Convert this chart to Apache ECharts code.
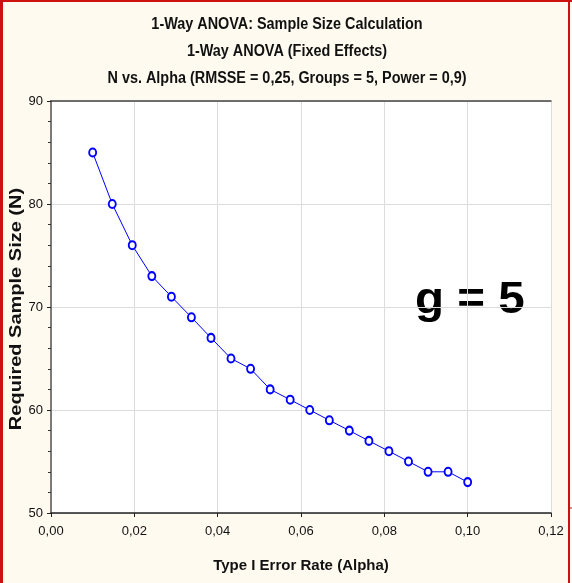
<!DOCTYPE html>
<html>
<head>
<meta charset="utf-8">
<script src="https://cdn.jsdelivr.net/npm/echarts@6/dist/echarts.min.js"></script>
<style>
html,body{margin:0;padding:0;background:#fefaef;}
#c{width:572px;height:583px;}
</style>
</head>
<body>
<div id="c"></div>
<script>
const alphaValues = [0.0100, 0.0147, 0.0195, 0.0242, 0.0289, 0.0337, 0.0384, 0.0432, 0.0479, 0.0526, 0.0574, 0.0621, 0.0668, 0.0716, 0.0763, 0.0811, 0.0858, 0.0905, 0.0953, 0.1000];
const sampleSizes = [85, 80, 76, 73, 71, 69, 67, 65, 64, 62, 61, 60, 59, 58, 57, 56, 55, 54, 54, 53];
const titleLines = ['1-Way ANOVA: Sample Size Calculation', '1-Way ANOVA (Fixed Effects)', 'N vs. Alpha (RMSSE = 0,25, Groups = 5, Power = 0,9)'];
const xAxisName = 'Type I Error Rate (Alpha)';
const yAxisName = 'Required Sample Size (N)';
const annotation = 'g = 5';

const sans = '"Liberation Sans", Arial, sans-serif';
const chart = echarts.init(document.getElementById('c'), null, {renderer: 'canvas'});
const fmt = v => v.toFixed(2).replace('.', ',');

const titleGraphics = titleLines.map((t, i) => ({
  type: 'text', x: 287, y: 25 + i * 27, scaleX: 0.9,
  style: {text: t, align: 'center', verticalAlign: 'middle', font: 'bold 16px ' + sans, fill: '#111'}
}));

chart.setOption({
  backgroundColor: '#fefaef',
  animation: false,
  grid: {left: 51, right: 21, top: 101, bottom: 70, show: true, backgroundColor: '#ffffff', borderWidth: 0},
  xAxis: [{
    type: 'value', min: 0, max: 0.12, interval: 0.02,
    name: xAxisName, nameLocation: 'middle', nameGap: 45,
    nameTextStyle: {fontFamily: sans, fontSize: 15, fontWeight: 'bold', color: '#111'},
    axisLine: {show: true, lineStyle: {color: '#222', width: 1.5}},
    axisTick: {show: true, length: 4, lineStyle: {color: '#222'}},
    axisLabel: {formatter: fmt, fontFamily: sans, fontSize: 13, color: '#111', margin: 12},
    splitLine: {show: true, lineStyle: {color: '#dcdcdc', width: 1}}
  }, {
    type: 'value', position: 'top', min: 0, max: 0.12, interval: 0.02,
    axisLine: {show: true, lineStyle: {color: '#444', width: 1.5}},
    axisTick: {show: false}, axisLabel: {show: false}, splitLine: {show: false}
  }],
  yAxis: [{
    type: 'value', min: 50, max: 90, interval: 10,
    axisLine: {show: true, lineStyle: {color: '#222', width: 1.5}},
    axisTick: {show: true, length: 4, lineStyle: {color: '#222'}},
    minorTick: {show: true, splitNumber: 5, length: 3, lineStyle: {color: '#333'}},
    axisLabel: {fontFamily: sans, fontSize: 13, color: '#111', margin: 8},
    splitLine: {show: true, lineStyle: {color: '#dcdcdc', width: 1}}
  }, {
    type: 'value', position: 'right', min: 50, max: 90, interval: 10,
    axisLine: {show: true, lineStyle: {color: '#888', width: 1.5}},
    axisTick: {show: false, inside: true},
    minorTick: {show: true, splitNumber: 5, length: 3, lineStyle: {color: '#333'}},
    axisLabel: {show: false}, splitLine: {show: false}
  }],
  series: [{
    type: 'line',
    data: alphaValues.map((a, i) => [a, sampleSizes[i]]),
    symbol: 'emptyCircle', symbolSize: [7, 8],
    lineStyle: {color: '#0000ff', width: 1},
    itemStyle: {color: '#0000ff', borderColor: '#0000ff', borderWidth: 1},
    z: 5
  }],
  graphic: titleGraphics.concat([
    {type: 'text', x: 16.5, y: 309, rotation: Math.PI / 2, scaleX: 1.25,
     style: {text: yAxisName, align: 'center', verticalAlign: 'middle', font: 'bold 16px ' + sans, fill: '#111'}},
    {type: 'text', x: 415, y: 279, scaleX: 1.08, style: {text: annotation, font: 'bold 44px ' + sans, fill: '#000'}},
    {type: 'line', shape: {x1: 1.5, y1: 0, x2: 1.5, y2: 583}, style: {stroke: '#cc1111', lineWidth: 3}},
    {type: 'line', shape: {x1: 0, y1: 1, x2: 572, y2: 1}, style: {stroke: '#cc1111', lineWidth: 2}},
    {type: 'line', shape: {x1: 569, y1: 0, x2: 569, y2: 583}, style: {stroke: '#cc1111', lineWidth: 2}},
    {type: 'line', shape: {x1: 568, y1: 508, x2: 572, y2: 508}, style: {stroke: '#cc1111', lineWidth: 1}}
  ])
});
</script>
</body>
</html>
